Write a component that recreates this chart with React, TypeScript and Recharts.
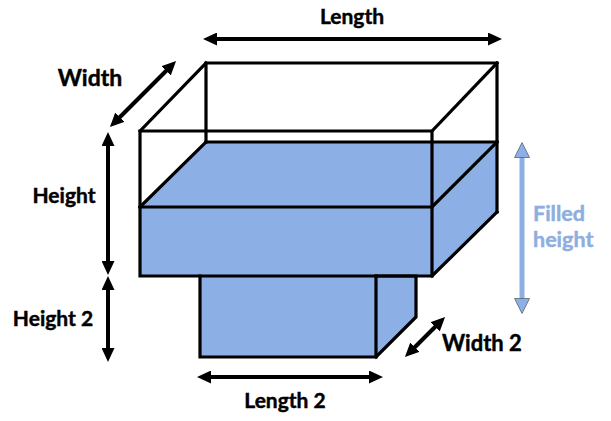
import React from 'react';
import { ComposedChart, XAxis, YAxis, Line, Area, ReferenceDot } from 'recharts';

const W = 611;
const H = 421;

// Filled (water / lower box) faces: x -> [bottom, top] in pixel-like units (y axis reversed)
const upperFill = [
  { x: 140, y: [276, 207] },
  { x: 206, y: [276, 142] },
  { x: 432, y: [276, 142] },
  { x: 497, y: [212, 142] },
];
const lowerFill = [
  { x: 200, y: [357, 276] },
  { x: 376, y: [357, 276] },
  { x: 416, y: [317, 276] },
];

// Box edges (polylines)
const edges: { x: number; y: number }[][] = [
  [{ x: 206, y: 142 }, { x: 206, y: 63 }, { x: 497, y: 63 }, { x: 497, y: 212 }],
  [{ x: 140, y: 131 }, { x: 206, y: 63 }],
  [{ x: 432, y: 131 }, { x: 497, y: 63 }],
  [{ x: 140, y: 131 }, { x: 432, y: 131 }, { x: 432, y: 276 }, { x: 140, y: 276 }, { x: 140, y: 131 }],
  [{ x: 206, y: 142 }, { x: 497, y: 142 }],
  [{ x: 140, y: 207 }, { x: 206, y: 142 }],
  [{ x: 432, y: 207 }, { x: 497, y: 142 }],
  [{ x: 140, y: 207 }, { x: 432, y: 207 }],
  [{ x: 432, y: 276 }, { x: 497, y: 212 }],
  [{ x: 200, y: 276 }, { x: 200, y: 357 }, { x: 376, y: 357 }, { x: 376, y: 276 }],
  [{ x: 376, y: 357 }, { x: 416, y: 317 }, { x: 416, y: 276 }, { x: 376, y: 276 }],
];

// Dimension arrows (shaft endpoints)
const arrows: { x: number; y: number }[][] = [
  [{ x: 213, y: 39 }, { x: 492, y: 39 }],
  [{ x: 117, y: 120 }, { x: 169, y: 68 }],
  [{ x: 108, y: 142 }, { x: 108, y: 265 }],
  [{ x: 108, y: 286 }, { x: 108, y: 352 }],
  [{ x: 207, y: 377 }, { x: 373, y: 377 }],
  [{ x: 412, y: 350 }, { x: 438, y: 324 }],
];
const filledArrow = [{ x: 522, y: 153 }, { x: 522, y: 303 }];

// Labels
const labels = [
  { x: 352, y: 16, text: 'Length', size: 21, anchor: 'middle', blue: false },
  { x: 90, y: 78, text: 'Width', size: 23, anchor: 'middle', blue: false },
  { x: 64, y: 195, text: 'Height', size: 21, anchor: 'middle', blue: false },
  { x: 53, y: 318, text: 'Height 2', size: 21, anchor: 'middle', blue: false },
  { x: 285, y: 400, text: 'Length 2', size: 21, anchor: 'middle', blue: false },
  { x: 482, y: 343, text: 'Width 2', size: 22, anchor: 'middle', blue: false },
  { x: 533, y: 213, text: 'Filled', size: 21.5, anchor: 'start', blue: true },
  { x: 533, y: 239, text: 'height', size: 21.5, anchor: 'start', blue: true },
];

const BLUE = '#8cafe5';
const LABEL_BLUE = '#8eaee0';
const FONT = 'Lato, "Open Sans", sans-serif';

const LabelContent = (props: any) => {
  const { viewBox, value, size, anchor, fill } = props;
  const cx = viewBox.x + (viewBox.width || 0) / 2;
  const cy = viewBox.y + (viewBox.height || 0) / 2;
  return (
    <text
      x={cx}
      y={cy}
      dy="0.36em"
      textAnchor={anchor}
      fontFamily={FONT}
      fontWeight={700}
      fontSize={size}
      fill={fill}
      stroke={fill}
      strokeWidth={0.45}
    >
      {value}
    </text>
  );
};

export default function App() {
  return (
    <div style={{ position: 'absolute', left: 0, top: 0, background: '#fff' }}>
      <ComposedChart width={W} height={H} margin={{ top: 0, right: 0, bottom: 0, left: 0 }}>
        <defs>
          <marker
            id="ah"
            viewBox="0 0 14 13"
            markerWidth={14}
            markerHeight={13}
            refX={4}
            refY={6.5}
            orient="auto-start-reverse"
            markerUnits="userSpaceOnUse"
          >
            <path d="M0,0 L14,6.5 L0,13 z" fill="#000" />
          </marker>
          <marker
            id="ahb"
            viewBox="0 0 16 16"
            markerWidth={16}
            markerHeight={16}
            refX={5}
            refY={8}
            orient="auto-start-reverse"
            markerUnits="userSpaceOnUse"
          >
            <path d="M0.5,0.5 L15.5,8 L0.5,15.5 z" fill={BLUE} stroke="#5a6470" strokeWidth={0.8} />
          </marker>
        </defs>
        <XAxis hide type="number" dataKey="x" domain={[0, W]} allowDataOverflow />
        <YAxis hide type="number" reversed domain={[0, H]} allowDataOverflow />
        <Area
          data={upperFill}
          dataKey="y"
          type="linear"
          stroke="none"
          fill={BLUE}
          fillOpacity={1}
          dot={false}
          activeDot={false}
          isAnimationActive={false}
        />
        <Area
          data={lowerFill}
          dataKey="y"
          type="linear"
          stroke="none"
          fill={BLUE}
          fillOpacity={1}
          dot={false}
          activeDot={false}
          isAnimationActive={false}
        />
        {edges.map((d, i) => (
          <Line
            key={'e' + i}
            data={d}
            dataKey="y"
            type="linear"
            stroke="#000"
            strokeWidth={3.2}
            strokeLinecap="square"
            strokeLinejoin="miter"
            dot={false}
            activeDot={false}
            isAnimationActive={false}
          />
        ))}
        {arrows.map((d, i) => (
          <Line
            key={'a' + i}
            data={d}
            dataKey="y"
            type="linear"
            stroke="#000"
            strokeWidth={4}
            markerStart="url(#ah)"
            markerEnd="url(#ah)"
            dot={false}
            activeDot={false}
            isAnimationActive={false}
          />
        ))}
        <Line
          data={filledArrow}
          dataKey="y"
          type="linear"
          stroke={BLUE}
          strokeWidth={5}
          markerStart="url(#ahb)"
          markerEnd="url(#ahb)"
          dot={false}
          activeDot={false}
          isAnimationActive={false}
        />
        {labels.map((l, i) => (
          <ReferenceDot
            key={'l' + i}
            x={l.x}
            y={l.y}
            r={0}
            fill="none"
            stroke="none"
            label={
              <LabelContent
                value={l.text}
                size={l.size}
                anchor={l.anchor}
                fill={l.blue ? LABEL_BLUE : '#000'}
              />
            }
          />
        ))}
      </ComposedChart>
    </div>
  );
}
